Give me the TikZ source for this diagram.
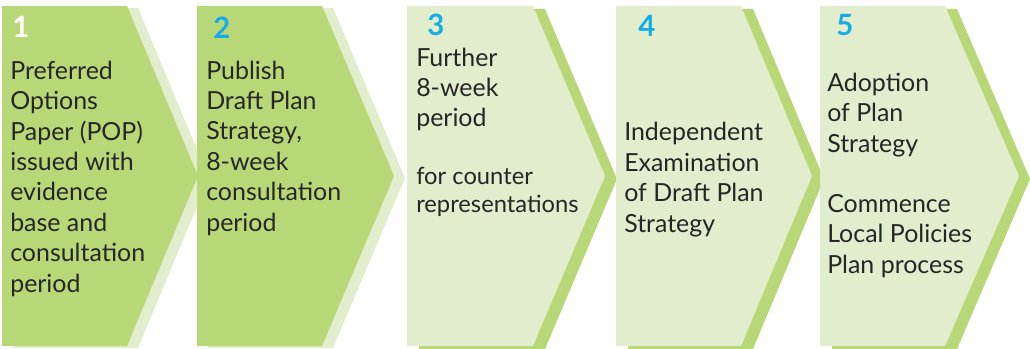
\documentclass[tikz,border=0pt]{standalone}
\usepackage{fontspec}
\setmainfont{Lato}
\definecolor{stepdark}{HTML}{B8D878}
\definecolor{steplight}{HTML}{E2EDCD}
\definecolor{stepnum}{HTML}{16ADE6}
\definecolor{steptext}{HTML}{262626}

\begin{document}
\begin{tikzpicture}[x=0.75pt,y=-0.75pt,
        steptxt/.style={anchor=base west,inner sep=0pt,align=left,text=steptext,
                font=\fontsize{18.7}{22.8}\selectfont},
        stepsmall/.style={steptxt,font=\fontsize{17.8}{20.3}\selectfont},
        stepno/.style={anchor=base west,inner sep=0pt,text=stepnum,
                font=\fontsize{22}{24}\selectfont\bfseries}]
                        \useasboundingbox (0,0) rectangle (1030,349);
                        \fill[white] (0,0) rectangle (1030,349);

                                \fill[steplight] (13,8) -- (138,8) -- (209,178) -- (138,348) -- (13,348) -- cycle;
                                \fill[stepdark] (2,6) -- (127,6) -- (198,176) -- (127,346) -- (2,346) -- cycle;
                                \node[stepno,text=white] (n1) at (12,38) {1};
                                \node[steptxt] (t1) at (10,292) {Preferred\\Options\\Paper (POP)\\issued with\\evidence\\base and\\consultation\\period};

                                \fill[steplight] (208,8) -- (333,8) -- (405,178) -- (333,348) -- (208,348) -- cycle;
                                \fill[stepdark] (197,6) -- (322,6) -- (394,176) -- (322,346) -- (197,346) -- cycle;
                                \node[stepno] (n2) at (213,39) {2};
                                \node[steptxt] (t2) at (206,231) {Publish\\Draft Plan\\Strategy,\\8-week\\consultation\\period};

                                \fill[stepdark] (419,9) -- (545,9) -- (617,179) -- (545,349) -- (419,349) -- cycle;
                                \fill[steplight] (407,6) -- (533,6) -- (605,176) -- (533,346) -- (407,346) -- cycle;
                                \node[stepno] (n3) at (427,36) {3};
                                \node[steptxt] (t3) at (416,127) {Further\\8-week\\period};
                                \node[stepsmall] (s3) at (416,212) {for counter\\representations};

                                \fill[stepdark] (628,9) -- (753,9) -- (824,179) -- (753,349) -- (628,349) -- cycle;
                                \fill[steplight] (616,6) -- (741,6) -- (812,176) -- (741,346) -- (616,346) -- cycle;
                                \node[stepno] (n4) at (638,37) {4};
                                \node[steptxt] (t4) at (624,232) {Independent\\Examination\\of Draft Plan\\Strategy};

                                \fill[stepdark] (832,9) -- (957,9) -- (1030,179) -- (957,349) -- (832,349) -- cycle;
                                \fill[steplight] (820,6) -- (945,6) -- (1019,176) -- (945,346) -- (820,346) -- cycle;
                                \node[stepno] (n5) at (836,36) {5};
                                \node[steptxt] (t5) at (827,152) {Adoption\\of Plan\\Strategy};
                                \node[steptxt] (u5) at (827,273) {Commence\\Local Policies\\Plan process};
                    \end{tikzpicture}
\end{document}
